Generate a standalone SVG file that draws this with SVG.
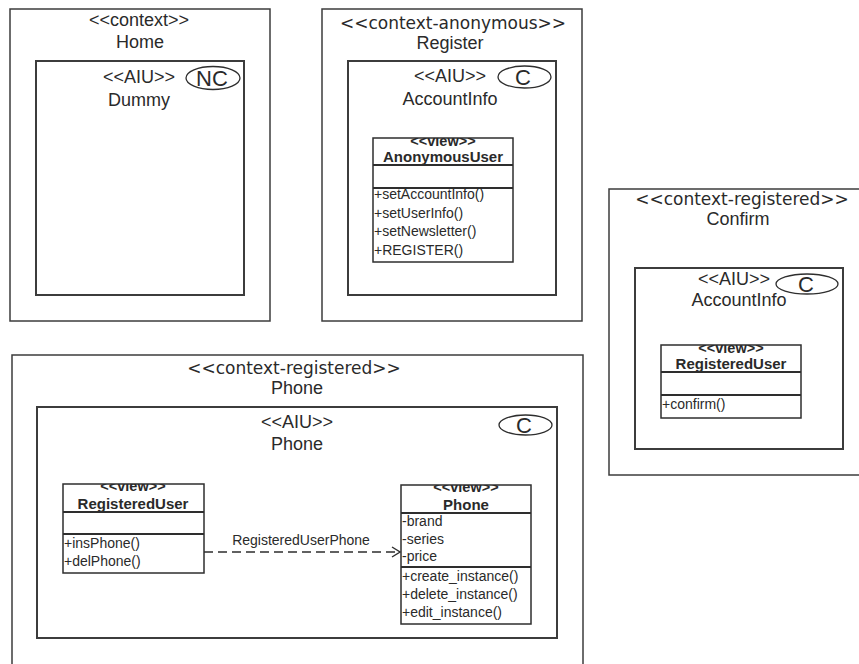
<svg xmlns="http://www.w3.org/2000/svg" width="859" height="664" viewBox="0 0 859 664">
  <style>
    .ctx { fill: #fff; stroke: #3c3c3c; stroke-width: 1.5; }
    .aiu { fill: #fff; stroke: #3c3c3c; stroke-width: 2; }
    .cls { fill: #fff; stroke: #2e2e2e; stroke-width: 1.5; }
    .sep { stroke: #2e2e2e; stroke-width: 1.8; }
    .badge { fill: #fff; stroke: #2e2e2e; stroke-width: 1.3; }
    text { fill: #2a2a2a; font-family: "Liberation Sans", Arial, sans-serif; }
    .h { font-size: 18px; text-anchor: middle; }
    .hs { font-family: "DejaVu Sans", Verdana, sans-serif; font-size: 17px; text-anchor: middle; }
    .st { font-size: 14.5px; font-weight: bold; text-anchor: middle; }
    .nm { font-size: 15px; font-weight: bold; text-anchor: middle; }
    .m { font-size: 14px; }
    .lbl { font-size: 14px; text-anchor: middle; }
    .bl { font-size: 22px; text-anchor: middle; }
    .conn { fill: none; stroke: #2e2e2e; stroke-width: 1.4; }
  </style>
  <defs>
    <marker id="open" viewBox="0 0 10 12" refX="9" refY="6" markerWidth="10" markerHeight="12" markerUnits="userSpaceOnUse" orient="auto">
      <path d="M1 1 L9 6 L1 11" fill="none" stroke="#2e2e2e" stroke-width="1.4"/>
    </marker>
    <clipPath id="cAnon"><rect x="373" y="138" width="140" height="124"/></clipPath>
    <clipPath id="cConf"><rect x="661" y="345" width="140" height="73"/></clipPath>
    <clipPath id="cRegU"><rect x="63" y="484" width="141" height="89"/></clipPath>
    <clipPath id="cPhone"><rect x="401" y="485" width="130" height="139"/></clipPath>
  </defs>

  <rect width="859" height="664" fill="#fff"/>

  <!-- Home context -->
  <g id="home">
    <rect class="ctx" x="10" y="9" width="260" height="312"/>
    <text class="h" x="139" y="26">&lt;&lt;context&gt;&gt;</text>
    <text class="h" x="140" y="48">Home</text>
    <g id="home-dummy">
      <rect class="aiu" x="36" y="61" width="208" height="234"/>
      <text class="h" x="139" y="83">&lt;&lt;AIU&gt;&gt;</text>
      <text class="h" x="139" y="106">Dummy</text>
      <ellipse class="badge" cx="213" cy="78" rx="27" ry="11.5"/>
      <text class="bl" x="212" y="86">NC</text>
    </g>
  </g>

  <!-- Register context -->
  <g id="register">
    <rect class="ctx" x="322" y="9" width="260" height="312"/>
    <text class="hs" x="453" y="29">&lt;&lt;context-anonymous&gt;&gt;</text>
    <text class="h" x="450" y="49">Register</text>
    <g id="register-accountinfo">
      <rect class="aiu" x="348" y="61" width="208" height="234"/>
      <text class="h" x="450" y="82">&lt;&lt;AIU&gt;&gt;</text>
      <text class="h" x="450" y="105">AccountInfo</text>
      <ellipse class="badge" cx="524.5" cy="77" rx="26.5" ry="11"/>
      <text class="bl" x="523" y="85">C</text>
      <g id="anonymous-user">
        <rect class="cls" x="373" y="138" width="140" height="124"/>
        <g clip-path="url(#cAnon)">
          <text class="st" x="443" y="145.5">&lt;&lt;view&gt;&gt;</text>
        </g>
        <text class="nm" x="443" y="162">AnonymousUser</text>
        <line class="sep" x1="373" y1="165" x2="513" y2="165"/>
        <line class="sep" x1="373" y1="188" x2="513" y2="188"/>
        <text class="m" x="374" y="199">+setAccountInfo()</text>
        <text class="m" x="374" y="217.5">+setUserInfo()</text>
        <text class="m" x="374" y="236">+setNewsletter()</text>
        <text class="m" x="374" y="254.5">+REGISTER()</text>
      </g>
    </g>
  </g>

  <!-- Confirm context -->
  <g id="confirm">
    <rect class="ctx" x="609" y="189" width="270" height="286"/>
    <text class="hs" x="742" y="205">&lt;&lt;context-registered&gt;&gt;</text>
    <text class="h" x="738" y="225">Confirm</text>
    <g id="confirm-accountinfo">
      <rect class="aiu" x="635" y="268" width="208" height="181"/>
      <text class="h" x="734" y="285">&lt;&lt;AIU&gt;&gt;</text>
      <text class="h" x="739" y="306">AccountInfo</text>
      <ellipse class="badge" cx="807" cy="284" rx="31" ry="10"/>
      <text class="bl" x="806" y="292">C</text>
      <g id="confirm-registered-user">
        <rect class="cls" x="661" y="345" width="140" height="73"/>
        <g clip-path="url(#cConf)">
          <text class="st" x="731" y="352.5">&lt;&lt;view&gt;&gt;</text>
        </g>
        <text class="nm" x="731" y="369">RegisteredUser</text>
        <line class="sep" x1="661" y1="372" x2="801" y2="372"/>
        <line class="sep" x1="661" y1="395" x2="801" y2="395"/>
        <text class="m" x="662" y="409">+confirm()</text>
      </g>
    </g>
  </g>

  <!-- Phone context -->
  <g id="phone-context">
    <rect class="ctx" x="12" y="355" width="571" height="320"/>
    <text class="hs" x="294" y="374">&lt;&lt;context-registered&gt;&gt;</text>
    <text class="h" x="297" y="394">Phone</text>
    <g id="phone-aiu">
      <rect class="aiu" x="37" y="407" width="520" height="231"/>
      <text class="h" x="297" y="428">&lt;&lt;AIU&gt;&gt;</text>
      <text class="h" x="297" y="450">Phone</text>
      <ellipse class="badge" cx="525.5" cy="425" rx="26.5" ry="10"/>
      <text class="bl" x="524" y="433">C</text>
    </g>
  </g>

  <g id="registered-user">
    <rect class="cls" x="63" y="484" width="141" height="89"/>
    <g clip-path="url(#cRegU)">
      <text class="st" x="133" y="491">&lt;&lt;view&gt;&gt;</text>
    </g>
    <text class="nm" x="133" y="508.5">RegisteredUser</text>
    <line class="sep" x1="63" y1="512" x2="204" y2="512"/>
    <line class="sep" x1="63" y1="534" x2="204" y2="534"/>
    <text class="m" x="64" y="548">+insPhone()</text>
    <text class="m" x="64" y="566">+delPhone()</text>
  </g>

  <g id="phone-view">
    <rect class="cls" x="401" y="485" width="130" height="139"/>
    <g clip-path="url(#cPhone)">
      <text class="st" x="466" y="492">&lt;&lt;view&gt;&gt;</text>
    </g>
    <text class="nm" x="466" y="509.5">Phone</text>
    <line class="sep" x1="401" y1="513" x2="531" y2="513"/>
    <line class="sep" x1="401" y1="567" x2="531" y2="567"/>
    <text class="m" x="402" y="526">-brand</text>
    <text class="m" x="402" y="544">-series</text>
    <text class="m" x="402" y="561">-price</text>
    <text class="m" x="402" y="581">+create_instance()</text>
    <text class="m" x="402" y="599">+delete_instance()</text>
    <text class="m" x="402" y="616.5">+edit_instance()</text>
  </g>

  <!-- Connectors -->
  <g id="connectors">
    <line class="conn" x1="204" y1="552" x2="400" y2="552" stroke-dasharray="9 5" marker-end="url(#open)"/>
    <text class="lbl" x="301" y="545">RegisteredUserPhone</text>
  </g>
</svg>
